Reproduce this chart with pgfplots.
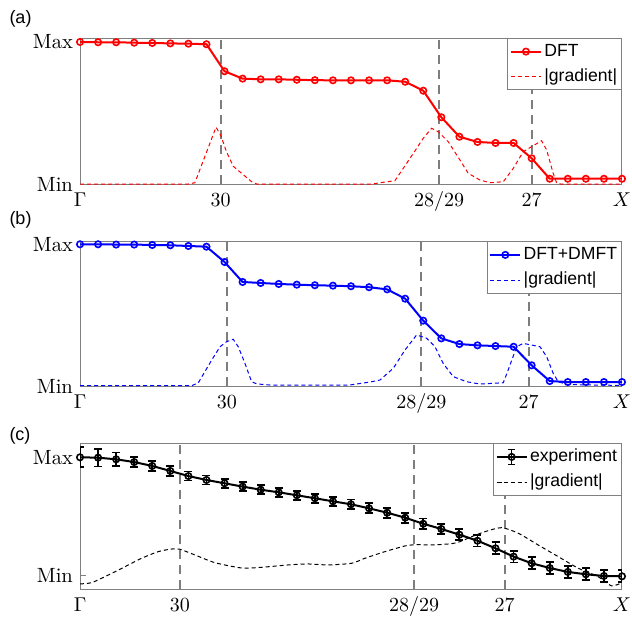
\documentclass[border=0pt]{standalone}
\usepackage{fontspec}
\newfontfamily\legfont{Liberation Sans}
\usepackage{pgfplots}
\pgfplotsset{compat=1.18}
\usepackage{pgfplotstable}

\definecolor{axgray}{RGB}{128,128,128}
\definecolor{vgray}{RGB}{125,125,125}

% panel (a)
\pgfplotstableread{
x y
0 1.0
1 0.998
2 0.998
3 0.995
4 0.993
5 0.99
6 0.988
7 0.984
8 0.794
9 0.742
10 0.737
11 0.737
12 0.734
13 0.731
14 0.730
15 0.730
16 0.730
17 0.730
18 0.720
19 0.657
20 0.470
21 0.333
22 0.296
23 0.289
24 0.289
25 0.181
26 0.037
27 0.037
28 0.037
29 0.037
30 0.037
}\dftdata
\pgfplotstableread{
x y
0 0
6.0 0
6.36 0.009
7.53 0.40
7.8 0.34
8.1 0.23
8.48 0.125
8.9 0.08
9.5 0.016
9.78 0
16.2 0
16.6 0.009
17.43 0.023
18.45 0.216
19.0 0.322
19.46 0.392
19.83 0.368
20.38 0.298
21.03 0.169
21.49 0.075
22.14 0.028
22.69 0.009
23.43 0.016
23.98 0.11
24.53 0.227
25.55 0.305
25.83 0.239
26.19 0.075
26.38 0.009
26.6 0
30 0
}\dftgrad
% panel (b)
\pgfplotstableread{
x y
0 1.0
1 1.0
2 0.998
3 0.998
4 0.995
5 0.993
6 0.988
7 0.983
8 0.875
9 0.734
10 0.727
11 0.72
12 0.715
13 0.711
14 0.708
15 0.704
16 0.697
17 0.682
18 0.616
19 0.461
20 0.336
21 0.296
22 0.287
23 0.282
24 0.277
25 0.146
26 0.035
27 0.028
28 0.028
29 0.028
30 0.028
}\dmftdata
\pgfplotstableread{
x y
0 0.003
6.2 0.003
6.55 0.023
7.29 0.183
7.75 0.277
8.12 0.313
8.48 0.33
8.76 0.277
9.13 0.16
9.5 0.03
9.78 0.015
10.5 0.007
14.94 0.007
16.05 0.028
16.6 0.042
17.34 0.125
17.99 0.254
18.63 0.36
19.19 0.337
19.65 0.277
20.1 0.16
20.66 0.066
21.4 0.03
22.14 0.014
23.43 0.023
23.7 0.113
24.17 0.277
24.53 0.301
25.46 0.277
25.83 0.207
26.19 0.09
26.47 0.03
27 0.01
30 0.004
}\dmftgrad
% panel (c)
\pgfplotstableread{
x y e
0 1.0 0.085
1 0.997 0.075
2 0.983 0.058
3 0.96 0.045
4 0.927 0.04
5 0.885 0.04
6 0.842 0.038
7 0.809 0.038
8 0.781 0.038
9 0.753 0.038
10 0.727 0.038
11 0.705 0.038
12 0.68 0.038
13 0.655 0.038
14 0.629 0.038
15 0.604 0.04
16 0.57 0.042
17 0.533 0.042
18 0.491 0.042
19 0.44 0.045
20 0.396 0.045
21 0.348 0.045
22 0.297 0.048
23 0.233 0.05
24 0.163 0.05
25 0.107 0.05
26 0.067 0.05
27 0.034 0.05
28 0.014 0.05
29 0.0 0.05
30 -0.003 0.05
}\expdata
\pgfplotstableread{
x y
0 -0.067
0.65 -0.056
1.57 0.008
2.49 0.078
3.41 0.149
4.33 0.205
5.07 0.227
5.53 0.225
6.36 0.177
7.47 0.112
8.95 0.067
10.06 0.073
11.53 0.093
12.63 0.101
13.74 0.093
15.04 0.107
15.77 0.149
16.88 0.205
17.99 0.253
18.63 0.264
19.46 0.261
20.57 0.272
21.03 0.289
21.68 0.331
22.41 0.373
23.34 0.407
24.26 0.36
25.36 0.261
26.47 0.163
27.58 0.065
28.68 -0.006
29.42 -0.084
30 -0.056
}\expgrad

\pgfplotsset{
  panel/.style={
    scale only axis, width=271pt, xmin=0, xmax=30,
    axis line style={axgray, line width=0.5pt},
    ytick={0,1}, yticklabels={Min,Max},
    ytick pos=left, tick align=inside, major tick length=2.8pt,
    ytick style={axgray, line width=0.5pt},
    xtick style={draw=none},
    tick label style={font=\fontsize{10.3}{12}\selectfont},
    xticklabel style={text height=7.5pt, text depth=2.5pt},
    legend cell align=left,
    legend style={at={(1,1)}, anchor=north east, draw=axgray, fill=white,
      line width=0.5pt, font=\legfont\fontsize{8.8}{10}\selectfont,
      inner xsep=1pt, inner ysep=1pt,
      nodes={inner sep=1.2pt, text height=6.7pt, text depth=2pt}, row sep=1.5pt},
    legend image code/.code={\draw[mark repeat=2,mark phase=2,##1] plot coordinates {(0pt,0pt)(7.5pt,0pt)(15pt,0pt)};},
  },
  vline/.style={vgray, line width=1pt, dash pattern=on 4.5pt off 3pt, forget plot},
  grad/.style={line width=0.5pt, dash pattern=on 2pt off 1.5pt},
  datamark/.style={line width=1pt, mark=o, mark size=1.6pt, mark options={line width=0.8pt}},
}

\begin{document}
\begin{tikzpicture}
\useasboundingbox (0,0) rectangle (316pt,-310.5pt);

\node[font=\legfont\fontsize{9}{10}\selectfont] at (10.25pt,-9.25pt) {(a)};
\node[font=\legfont\fontsize{9}{10}\selectfont] at (10.25pt,-110pt) {(b)};
\node[font=\legfont\fontsize{9}{10}\selectfont] at (10pt,-218pt) {(c)};

\begin{axis}[panel, at={(40pt,-92pt)}, anchor=south west, height=73pt,
  ymin=0, ymax=1.028,
  xtick={0,7.79,19.88,25,30}, xticklabels={$\Gamma$,$30$,$28/29$,$27$,$X$}]
\addplot[vline] coordinates {(7.79,0) (7.79,1.028)};
\addplot[vline] coordinates {(19.88,0) (19.88,1.028)};
\addplot[vline] coordinates {(25,0) (25,1.028)};
\addplot[red, datamark] table[x=x,y=y] {\dftdata};
\addlegendentry{DFT}
\addplot[red, grad] table[x=x,y=y] {\dftgrad};
\addlegendentry{|gradient|}
\end{axis}

\begin{axis}[panel, at={(40pt,-193pt)}, anchor=south west, height=72.35pt,
  ymin=0, ymax=1.021,
  xtick={0,8.13,18.9,24.83,30}, xticklabels={$\Gamma$,$30$,$28/29$,$27$,$X$}]
\addplot[vline] coordinates {(8.13,0) (8.13,1.021)};
\addplot[vline] coordinates {(18.9,0) (18.9,1.021)};
\addplot[vline] coordinates {(24.83,0) (24.83,1.021)};
\addplot[blue, datamark] table[x=x,y=y] {\dmftdata};
\addlegendentry{DFT+DMFT}
\addplot[blue, grad] table[x=x,y=y] {\dmftgrad};
\addlegendentry{|gradient|}
\end{axis}

\begin{axis}[panel, at={(40pt,-294.5pt)}, anchor=south west, height=72.85pt,
  ymin=-0.11, ymax=1.118,
  xtick={0,5.53,18.5,23.5,30}, xticklabels={$\Gamma$,$30$,$28/29$,$27$,$X$}]
\addplot[vline] coordinates {(5.53,-0.11) (5.53,1.118)};
\addplot[vline] coordinates {(18.5,-0.11) (18.5,1.118)};
\addplot[vline] coordinates {(23.5,-0.11) (23.5,1.118)};
\addplot[black, datamark,
  legend image code/.code={
    \draw[black, line width=1pt] (0pt,0pt) -- (15pt,0pt);
    \draw[black, line width=0.8pt] (7.5pt,-3.8pt) -- (7.5pt,3.8pt)
      (5.7pt,-3.8pt) -- (9.3pt,-3.8pt) (5.7pt,3.8pt) -- (9.3pt,3.8pt);
    \draw[black, line width=0.8pt] (7.5pt,0pt) circle[radius=1.6pt];
  },
  error bars/.cd, y dir=both, y explicit,
  error bar style={line width=0.9pt, solid},
  error mark options={rotate=90, mark size=2pt, line width=0.9pt},
  ] table[x=x,y=y,y error=e] {\expdata};
\addlegendentry{experiment}
\addplot[black, grad, smooth, tension=0.4] table[x=x,y=y] {\expgrad};
\addlegendentry{|gradient|}
\end{axis}
\end{tikzpicture}
\end{document}
